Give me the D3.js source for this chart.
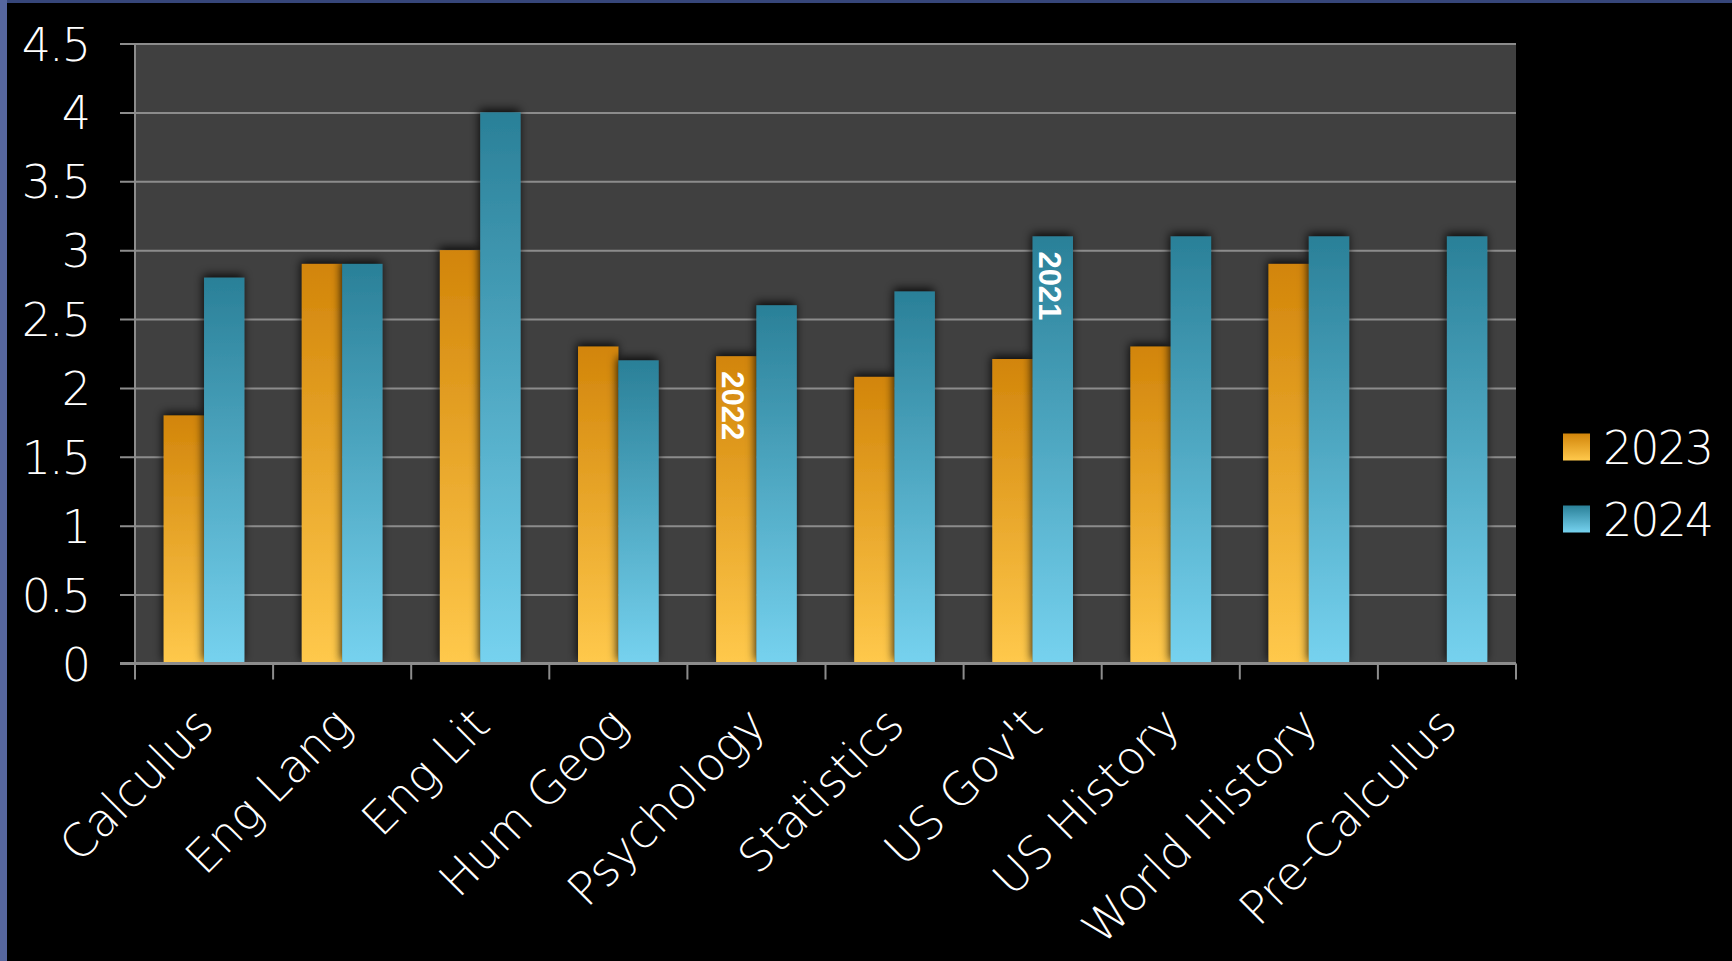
<!DOCTYPE html>
<html>
<head>
<meta charset="utf-8">
<script src="https://cdn.jsdelivr.net/npm/d3@7"></script>
<style>
  html, body { margin: 0; padding: 0; background: #000; }
  svg { display: block; }
</style>
</head>
<body>
<div id="chart"></div>
<script>
const categories = ["Calculus", "Eng Lang", "Eng Lit", "Hum Geog", "Psychology", "Statistics", "US Gov't", "US History", "World History", "Pre-Calculus"];
const seriesNames = ["2023", "2024"];
const values2023 = [1.8, 2.9, 3.0, 2.3, 2.23, 2.08, 2.21, 2.3, 2.9, null];
const values2024 = [2.8, 2.9, 4.0, 2.2, 2.6, 2.7, 3.1, 3.1, 3.1, 3.1];
const yTicks = [0, 0.5, 1, 1.5, 2, 2.5, 3, 3.5, 4, 4.5];
const yTickLabels = ["0", "0.5", "1", "1.5", "2", "2.5", "3", "3.5", "4", "4.5"];
// notes written inside a bar
const barNotes = [
  { category: "Psychology", series: "2023", text: "2022" },
  { category: "US Gov't", series: "2024", text: "2021" }
];

const W = 1732, H = 961;
const plot = { left: 135, right: 1516, top: 43.5, bottom: 663.5 };
const font = "'DejaVu Sans', sans-serif";
const fontWeight = 300;

const svg = d3.select("#chart").append("svg")
  .attr("width", W)
  .attr("height", H);

// frame strips of the slide
svg.append("rect").attr("width", W).attr("height", H).attr("fill", "#000");
svg.append("rect").attr("x", 0).attr("y", 0).attr("width", W).attr("height", 3).attr("fill", "#36467a");
svg.append("rect").attr("x", 0).attr("y", 0).attr("width", 7).attr("height", H).attr("fill", "#56669e");

const defs = svg.append("defs");
const grad = (id, top, bottom) => {
  const g = defs.append("linearGradient").attr("id", id)
    .attr("x1", 0).attr("y1", 0).attr("x2", 0).attr("y2", 1);
  g.append("stop").attr("offset", "0%").attr("stop-color", top);
  g.append("stop").attr("offset", "100%").attr("stop-color", bottom);
};
grad("g2023", "#d2850a", "#ffc94c");
grad("g2024", "#2a8098", "#76d2ef");
const fill = { "2023": "url(#g2023)", "2024": "url(#g2024)" };

const shadow = defs.append("filter").attr("id", "shadow")
  .attr("x", "-30%").attr("y", "-10%").attr("width", "160%").attr("height", "120%");
shadow.append("feDropShadow")
  .attr("dx", -1).attr("dy", -3).attr("stdDeviation", 5)
  .attr("flood-color", "#000").attr("flood-opacity", 0.85);

const x0 = d3.scaleBand()
  .domain(categories)
  .range([plot.left, plot.right])
  .paddingInner(0.416)
  .paddingOuter(0.208);
const x1 = d3.scaleBand()
  .domain(seriesNames)
  .range([0, x0.bandwidth()]);
const y = d3.scaleLinear()
  .domain([0, 4.5])
  .range([plot.bottom, plot.top]);

// plot background
svg.append("rect")
  .attr("x", plot.left).attr("y", plot.top)
  .attr("width", plot.right - plot.left).attr("height", plot.bottom - plot.top)
  .attr("fill", "#404040");

// gridlines + y axis
const yAxis = d3.axisLeft(y)
  .tickValues(yTicks)
  .tickFormat((d, i) => yTickLabels[i])
  .tickSize(-(plot.right - plot.left))
  .tickPadding(0);
const yg = svg.append("g").attr("transform", `translate(${plot.left},0)`).call(yAxis);
yg.select(".domain").remove();
yg.selectAll(".tick line")
  .attr("x1", -15)
  .attr("stroke", "#8c8c8c").attr("stroke-width", 2);
yg.selectAll(".tick text")
  .attr("x", 89 - plot.left)
  .attr("dy", "0.36em")
  .attr("fill", "#fff")
  .style("font-family", font)
  .style("font-weight", fontWeight)
  .style("letter-spacing", "-2px")
  .style("font-size", "46px");

svg.append("line")
  .attr("x1", plot.left).attr("x2", plot.left)
  .attr("y1", plot.top).attr("y2", plot.bottom)
  .attr("stroke", "#8c8c8c").attr("stroke-width", 2);

// bars
const rows = categories.map((c, i) => ({ category: c, values: { "2023": values2023[i], "2024": values2024[i] } }));
const groups = svg.selectAll("g.cat")
  .data(rows)
  .enter()
  .append("g")
  .attr("class", "cat")
  .attr("transform", d => `translate(${x0(d.category)},0)`);

groups.selectAll("rect")
  .data(d => seriesNames.filter(s => d.values[s] != null).map(s => ({ series: s, value: d.values[s] })))
  .enter()
  .append("rect")
  .attr("x", d => x1(d.series))
  .attr("y", d => y(d.value))
  .attr("width", x1.bandwidth())
  .attr("height", d => y(0) - y(d.value))
  .attr("fill", d => fill[d.series])
  .attr("filter", "url(#shadow)");

// bottom axis with ticks at category edges
const edges = categories.map(c => x0(c) - x0.step() * x0.paddingOuter());
edges.push(plot.right);
svg.append("line")
  .attr("x1", plot.left - 15).attr("x2", plot.right)
  .attr("y1", y(0)).attr("y2", y(0))
  .attr("stroke", "#8c8c8c").attr("stroke-width", 3);
svg.selectAll("line.xtick")
  .data(edges)
  .enter()
  .append("line")
  .attr("class", "xtick")
  .attr("x1", d => d).attr("x2", d => d)
  .attr("y1", y(0)).attr("y2", y(0) + 16)
  .attr("stroke", "#8c8c8c").attr("stroke-width", 2);

// category labels
svg.selectAll("text.xlab")
  .data(categories)
  .enter()
  .append("text")
  .attr("class", "xlab")
  .attr("transform", d => `translate(${x0(d) + x0.bandwidth() / 2 + 12},${y(0) + 64}) rotate(-45)`)
  .attr("text-anchor", "end")
  .attr("fill", "#fff")
  .style("font-family", font)
  .style("font-weight", fontWeight)
  .style("font-size", "46px")
  .text(d => d);

// notes inside bars
svg.selectAll("text.note")
  .data(barNotes)
  .enter()
  .append("text")
  .attr("class", "note")
  .attr("transform", d => {
    const i = categories.indexOf(d.category);
    const v = d.series === "2023" ? values2023[i] : values2024[i];
    const cx = x0(d.category) + x1(d.series) + x1.bandwidth() / 2;
    return `translate(${cx - 3},${y(v) + 15}) rotate(90)`;
  })
  .attr("dy", "0.36em")
  .attr("fill", "#fff")
  .style("font-family", "'Liberation Sans', Arial, sans-serif")
  .style("font-weight", "bold")
  .style("font-size", "31px")
  .text(d => d.text);

// legend
const legend = svg.selectAll("g.legend")
  .data(seriesNames)
  .enter()
  .append("g")
  .attr("class", "legend")
  .attr("transform", (d, i) => `translate(1563,${447 + i * 72})`);
legend.append("rect")
  .attr("x", 0).attr("y", -13.5)
  .attr("width", 27).attr("height", 27)
  .attr("fill", d => fill[d]);
legend.append("text")
  .attr("x", 40)
  .attr("dy", "0.36em")
  .attr("fill", "#fff")
  .style("font-family", font)
  .style("font-weight", fontWeight)
  .style("letter-spacing", "-2px")
  .style("font-size", "46px")
  .text(d => d);
</script>
</body>
</html>
